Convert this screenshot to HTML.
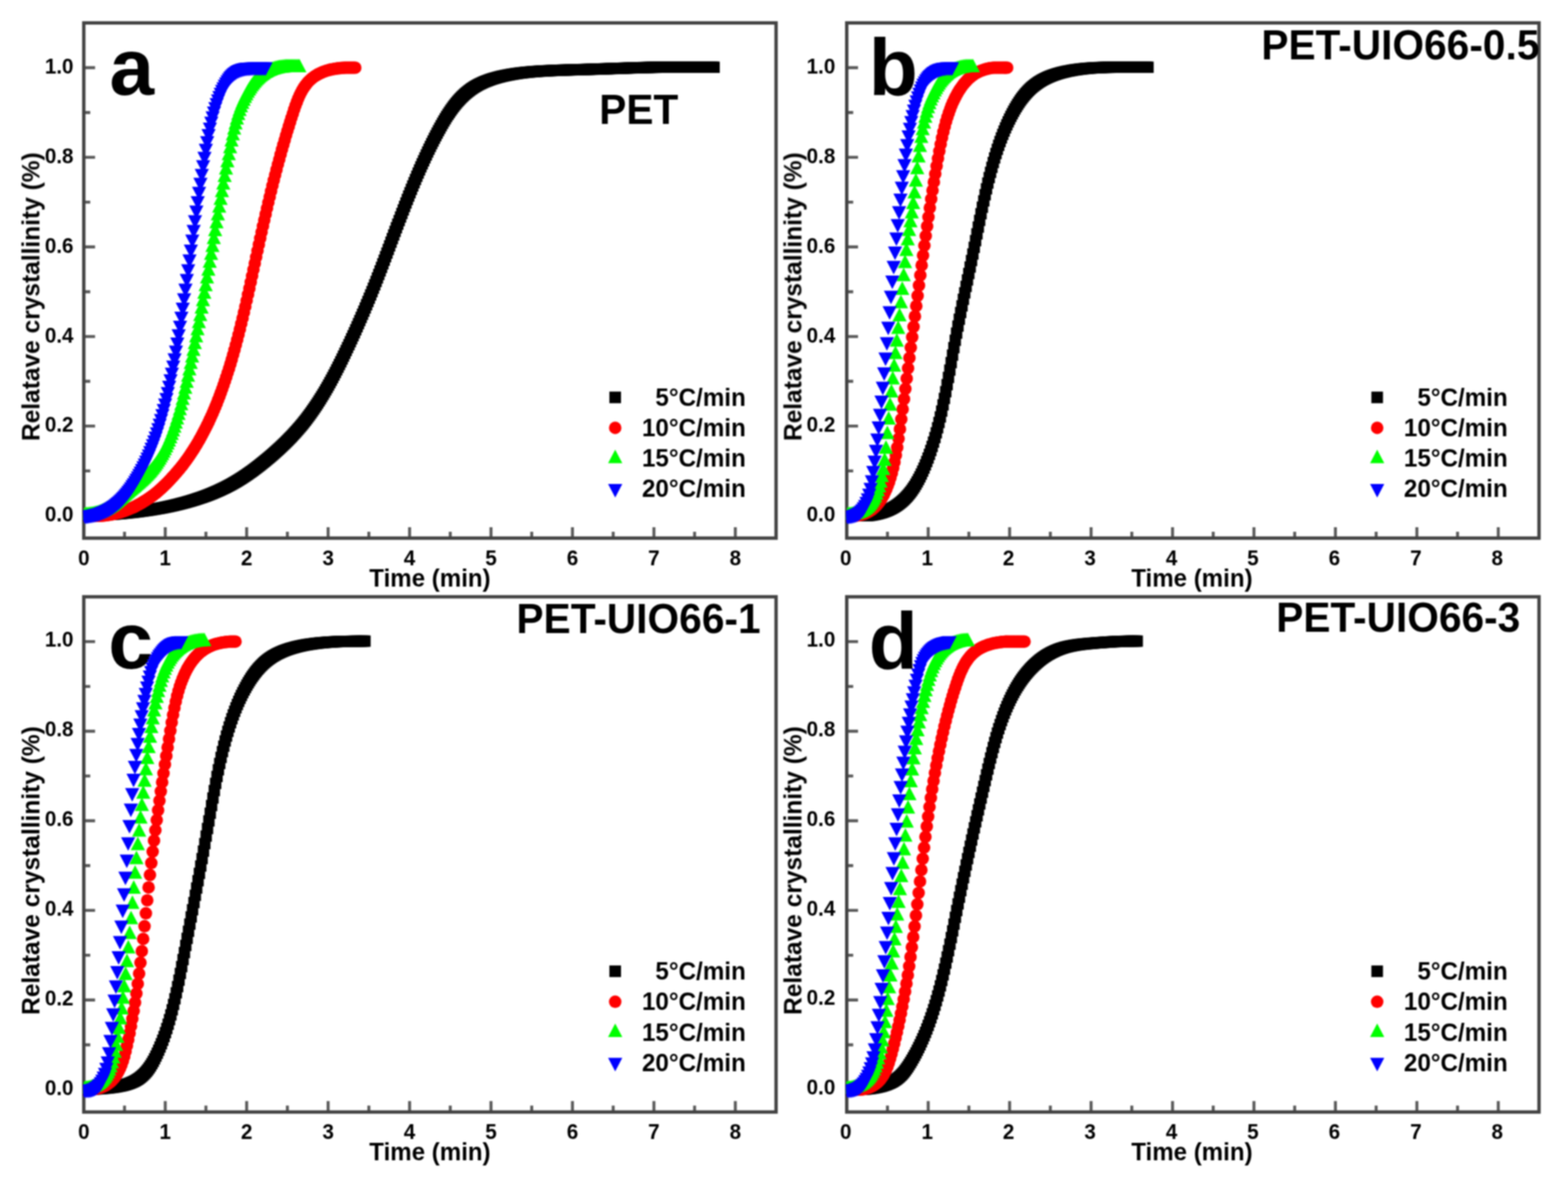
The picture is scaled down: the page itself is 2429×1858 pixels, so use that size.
<!DOCTYPE html>
<html lang="en"><head><meta charset="utf-8">
<title>Relative crystallinity versus time</title>
<style>
html,body{margin:0;padding:0;background:#fff;}
body{width:2429px;height:1858px;overflow:hidden;}
svg{display:block;}
text{font-family:"Liberation Sans", Arial, Helvetica, sans-serif;font-weight:bold;fill:#000;}
.tk{font-size:32px;}
.lb{font-size:37.3px;}
.yl{font-size:38px;}
.lg{font-size:37.5px;}
.tt{font-size:63px;}
.pl{font-size:124.5px;}
.ax{stroke:#424242;stroke-width:5.2;fill:none;}
.tkm{stroke:#5a5a5a;stroke-width:4.6;fill:none;}
.cv{fill:none;stroke:none;}
</style></head><body>
<svg xmlns="http://www.w3.org/2000/svg" width="2429" height="1858" viewBox="0 0 2429 1858">
<defs>
<filter id="soft" x="0" y="0" width="100%" height="100%" filterUnits="userSpaceOnUse" color-interpolation-filters="sRGB"><feGaussianBlur stdDeviation="1.1"/></filter>
<marker id="ms" markerUnits="userSpaceOnUse" markerWidth="24" markerHeight="24" refX="12" refY="12" overflow="visible"><rect x="3.2" y="3.2" width="17.6" height="17.6" fill="#000"/></marker>
<marker id="mc" markerUnits="userSpaceOnUse" markerWidth="24" markerHeight="24" refX="12" refY="12" overflow="visible"><circle cx="12" cy="12" r="9.7" fill="#f00"/></marker>
<marker id="mu" markerUnits="userSpaceOnUse" markerWidth="28" markerHeight="32" refX="14" refY="16" overflow="visible"><path d="M14 2 L25 23 L3 23 Z" fill="#0f0"/></marker>
<marker id="md" markerUnits="userSpaceOnUse" markerWidth="28" markerHeight="32" refX="14" refY="16" overflow="visible"><path d="M3 9 L25 9 L14 30 Z" fill="#00f"/></marker>
<clipPath id="cpa"><rect x="128.8" y="33.5" width="1075.4" height="802.4"/></clipPath>
<clipPath id="cpb"><rect x="1310.7" y="33.5" width="1075.4" height="802.4"/></clipPath>
<clipPath id="cpc"><rect x="128.8" y="922.8" width="1075.4" height="802.4"/></clipPath>
<clipPath id="cpd"><rect x="1310.7" y="922.8" width="1075.4" height="802.4"/></clipPath>
</defs>
<rect width="2429" height="1858" fill="#fff"/>
<g filter="url(#soft)">
<g id="panel-a">
<path class="tkm" d="M192.9 833.9v-10M256.0 833.9v-17M319.0 833.9v-10M382.1 833.9v-17M445.2 833.9v-10M508.3 833.9v-17M571.4 833.9v-10M634.5 833.9v-17M697.5 833.9v-10M760.6 833.9v-17M823.7 833.9v-10M886.8 833.9v-17M949.9 833.9v-10M1013.0 833.9v-17M1076.0 833.9v-10M1139.1 833.9v-17M129.8 799.2h17.5M129.8 729.8h10M129.8 660.3h17.5M129.8 590.9h10M129.8 521.5h17.5M129.8 452.1h10M129.8 382.6h17.5M129.8 313.2h10M129.8 243.8h17.5M129.8 174.4h10M129.8 104.9h17.5"/>
<rect class="ax" x="129.8" y="35.5" width="1072.4" height="798.4"/>
<text class="tk" text-anchor="middle" transform="translate(129.8 875.8) scale(1 1.040)">0</text>
<text class="tk" text-anchor="middle" transform="translate(256.0 875.8) scale(1 1.040)">1</text>
<text class="tk" text-anchor="middle" transform="translate(382.1 875.8) scale(1 1.040)">2</text>
<text class="tk" text-anchor="middle" transform="translate(508.3 875.8) scale(1 1.040)">3</text>
<text class="tk" text-anchor="middle" transform="translate(634.5 875.8) scale(1 1.040)">4</text>
<text class="tk" text-anchor="middle" transform="translate(760.6 875.8) scale(1 1.040)">5</text>
<text class="tk" text-anchor="middle" transform="translate(886.8 875.8) scale(1 1.040)">6</text>
<text class="tk" text-anchor="middle" transform="translate(1013.0 875.8) scale(1 1.040)">7</text>
<text class="tk" text-anchor="middle" transform="translate(1139.1 875.8) scale(1 1.040)">8</text>
<text class="tk" text-anchor="end" transform="translate(113.9 808.3) scale(1 1.040)">0.0</text>
<text class="tk" text-anchor="end" transform="translate(113.9 669.4) scale(1 1.040)">0.2</text>
<text class="tk" text-anchor="end" transform="translate(113.9 530.6) scale(1 1.040)">0.4</text>
<text class="tk" text-anchor="end" transform="translate(113.9 391.7) scale(1 1.040)">0.6</text>
<text class="tk" text-anchor="end" transform="translate(113.9 252.9) scale(1 1.040)">0.8</text>
<text class="tk" text-anchor="end" transform="translate(113.9 114.0) scale(1 1.040)">1.0</text>
<text class="lb" text-anchor="middle" transform="translate(666.0 908.5) scale(1 1.040)">Time (min)</text>
<text class="yl" text-anchor="middle" transform="translate(61.5 459.7) rotate(-90) scale(1 1.040)">Relatave crystallinity (%)</text>
<text class="pl" text-anchor="middle" x="204.0" y="147.1">a</text>
<text class="tt" transform="translate(928.3 192.2) scale(1 1.040)">PET</text>
<rect x="944.0" y="606.8" width="18" height="18" fill="#000"/>
<text class="lg" text-anchor="end" transform="translate(1155.3 628.8) scale(1 1.040)">5°C/min</text>
<circle cx="953.0" cy="663.0" r="9.7" fill="#f00"/>
<text class="lg" text-anchor="end" transform="translate(1155.3 676.0) scale(1 1.040)">10°C/min</text>
<path d="M953.0 696.7l11 21h-22z" fill="#0f0"/>
<text class="lg" text-anchor="end" transform="translate(1155.3 723.2) scale(1 1.040)">15°C/min</text>
<path d="M942.0 749.9h22l-11 21z" fill="#00f"/>
<text class="lg" text-anchor="end" transform="translate(1155.3 770.4) scale(1 1.040)">20°C/min</text>
<g clip-path="url(#cpa)">
<polyline class="cv" marker-start="url(#ms)" marker-mid="url(#ms)" marker-end="url(#ms)" points="130.5,799.2 132.6,799.1 134.7,799 136.8,799 138.9,798.9 141,798.8 143.1,798.7 145.2,798.6 147.3,798.5 149.4,798.4 151.5,798.3 153.6,798.2 155.7,798.1 157.9,798 160,797.8 162.1,797.7 164.2,797.6 166.3,797.4 168.4,797.3 170.5,797.1 172.6,797 174.7,796.8 176.8,796.7 178.9,796.5 181,796.3 183.1,796.2 185.2,796 187.3,795.8 189.4,795.6 191.5,795.4 193.6,795.2 195.7,795 197.8,794.7 199.9,794.5 202,794.3 204.1,794 206.2,793.8 208.3,793.6 210.4,793.3 212.5,793 214.6,792.8 216.7,792.5 218.8,792.2 220.9,791.9 223,791.6 225.1,791.3 227.2,791 229.3,790.7 231.4,790.4 233.5,790 235.7,789.7 237.8,789.3 239.9,789 242,788.6 244.1,788.2 246.2,787.9 248.3,787.5 250.4,787.1 252.5,786.7 254.6,786.3 256.7,785.8 258.8,785.4 260.9,785 263,784.5 265.1,784 267.2,783.6 269.3,783.1 271.4,782.6 273.5,782.1 275.6,781.6 277.7,781.1 279.8,780.5 281.9,780 284,779.4 286.1,778.9 288.2,778.3 290.3,777.7 292.4,777.1 294.5,776.5 296.6,775.9 298.7,775.2 300.8,774.6 302.9,773.9 305,773.2 307.1,772.5 309.2,771.8 311.4,771.1 313.5,770.4 315.6,769.6 317.7,768.9 319.8,768.1 321.9,767.3 324,766.5 326.1,765.6 328.2,764.8 330.3,763.9 332.4,763 334.5,762.1 336.6,761.2 338.7,760.3 340.8,759.3 342.9,758.3 345,757.3 347.1,756.3 349.2,755.3 351.3,754.2 353.4,753.1 355.5,752 357.6,750.9 359.7,749.7 361.8,748.5 363.9,747.3 366,746.1 368.1,744.8 370.2,743.5 372.3,742.2 374.4,740.9 376.5,739.5 378.6,738.1 380.7,736.7 382.8,735.3 384.9,733.8 387,732.3 389.2,730.8 391.3,729.3 393.4,727.7 395.5,726.1 397.6,724.5 399.7,722.9 401.8,721.3 403.9,719.6 406,717.9 408.1,716.2 410.2,714.5 412.3,712.8 414.4,711 416.5,709.3 418.6,707.5 420.7,705.7 422.8,703.9 424.9,702 427,700.1 429.1,698.2 431.2,696.3 433.3,694.4 435.4,692.4 437.5,690.4 439.6,688.4 441.7,686.4 443.8,684.3 445.9,682.2 448,680 450.1,677.9 452.2,675.7 454.3,673.4 456.4,671.1 458.5,668.8 460.6,666.4 462.7,664 464.9,661.5 467,659 469.1,656.5 471.2,653.8 473.3,651.2 475.4,648.4 477.5,645.6 479.6,642.8 481.7,639.9 483.8,636.9 485.9,633.9 488,630.8 490.1,627.7 492.2,624.5 494.3,621.2 496.4,617.9 498.5,614.5 500.6,611.1 502.7,607.6 504.8,604 506.9,600.4 509,596.7 511.1,592.9 513.2,589.1 515.3,585.2 517.4,581.2 519.5,577.2 521.6,573.1 523.7,569 525.8,564.8 527.9,560.6 530,556.3 532.1,551.9 534.2,547.5 536.3,543.1 538.4,538.6 540.6,534.1 542.7,529.5 544.8,524.9 546.9,520.3 549,515.7 551.1,511 553.2,506.3 555.3,501.5 557.4,496.7 559.5,491.9 561.6,487 563.7,482.2 565.8,477.2 567.9,472.2 570,467.2 572.1,462.1 574.2,457 576.3,451.9 578.4,446.6 580.5,441.4 582.6,436.1 584.7,430.7 586.8,425.3 588.9,419.8 591,414.4 593.1,408.8 595.2,403.3 597.3,397.7 599.4,392.2 601.5,386.6 603.6,381 605.7,375.3 607.8,369.7 609.9,364.1 612,358.5 614.1,352.9 616.2,347.4 618.4,341.8 620.5,336.3 622.6,330.8 624.7,325.3 626.8,319.9 628.9,314.5 631,309.1 633.1,303.8 635.2,298.6 637.3,293.4 639.4,288.2 641.5,283.1 643.6,278.1 645.7,273.1 647.8,268.2 649.9,263.3 652,258.5 654.1,253.8 656.2,249.2 658.3,244.6 660.4,240.1 662.5,235.6 664.6,231.2 666.7,226.9 668.8,222.6 670.9,218.5 673,214.3 675.1,210.3 677.2,206.3 679.3,202.4 681.4,198.6 683.5,194.8 685.6,191.1 687.7,187.5 689.8,184 691.9,180.5 694.1,177.2 696.2,174.1 698.3,171 700.4,168.1 702.5,165.2 704.6,162.5 706.7,159.9 708.8,157.4 710.9,155.1 713,152.8 715.1,150.6 717.2,148.6 719.3,146.6 721.4,144.7 723.5,143 725.6,141.3 727.7,139.7 729.8,138.1 731.9,136.7 734,135.3 736.1,134 738.2,132.8 740.3,131.6 742.4,130.5 744.5,129.5 746.6,128.5 748.7,127.5 750.8,126.6 752.9,125.8 755,125 757.1,124.2 759.2,123.4 761.3,122.7 763.4,122 765.5,121.4 767.6,120.8 769.7,120.2 771.9,119.6 774,119.1 776.1,118.5 778.2,118 780.3,117.6 782.4,117.1 784.5,116.7 786.6,116.3 788.7,115.9 790.8,115.5 792.9,115.1 795,114.8 797.1,114.4 799.2,114.1 801.3,113.8 803.4,113.5 805.5,113.2 807.6,113 809.7,112.7 811.8,112.5 813.9,112.2 816,112 818.1,111.8 820.2,111.6 822.3,111.4 824.4,111.2 826.5,111 828.6,110.9 830.7,110.7 832.8,110.6 834.9,110.4 837,110.3 839.1,110.1 841.2,110 843.3,109.9 845.4,109.8 847.6,109.7 849.7,109.6 851.8,109.5 853.9,109.4 856,109.3 858.1,109.2 860.2,109.1 862.3,109 864.4,108.9 866.5,108.9 868.6,108.8 870.7,108.7 872.8,108.6 874.9,108.6 877,108.5 879.1,108.5 881.2,108.4 883.3,108.3 885.4,108.3 887.5,108.2 889.6,108.1 891.7,108.1 893.8,108 895.9,108 898,107.9 900.1,107.8 902.2,107.8 904.3,107.7 906.4,107.7 908.5,107.6 910.6,107.5 912.7,107.5 914.8,107.4 916.9,107.3 919,107.3 921.1,107.2 923.2,107.1 925.4,107 927.5,107 929.6,106.9 931.7,106.8 933.8,106.8 935.9,106.7 938,106.6 940.1,106.6 942.2,106.5 944.3,106.4 946.4,106.3 948.5,106.3 950.6,106.2 952.7,106.1 954.8,106 956.9,106 959,105.9 961.1,105.8 963.2,105.8 965.3,105.7 967.4,105.6 969.5,105.6 971.6,105.5 973.7,105.4 975.8,105.3 977.9,105.3 980,105.2 982.1,105.2 984.2,105.1 986.3,105 988.4,105 990.5,104.9 992.6,104.8 994.7,104.8 996.8,104.7 998.9,104.7 1001.1,104.6 1003.2,104.6 1005.3,104.5 1007.4,104.4 1009.5,104.4 1011.6,104.3 1013.7,104.3 1015.8,104.3 1017.9,104.2 1020,104.2 1022.1,104.2 1024.2,104.2 1026.3,104.2 1028.4,104.2 1030.5,104.2 1032.6,104.2 1034.7,104.2 1036.8,104.2 1038.9,104.2 1041,104.2 1043.1,104.2 1045.2,104.2 1047.3,104.2 1049.4,104.2 1051.5,104.2 1053.6,104.2 1055.7,104.2 1057.8,104.2 1059.9,104.2 1062,104.2 1064.1,104.2 1066.2,104.2 1068.3,104.2 1070.4,104.2 1072.5,104.2 1074.6,104.2 1076.8,104.2 1078.9,104.2 1081,104.2 1083.1,104.2 1085.2,104.2 1087.3,104.2 1089.4,104.2 1091.5,104.2 1093.6,104.2 1095.7,104.2 1097.8,104.2 1099.9,104.2 1102,104.2 1104.1,104.2 1106.2,104.2"/>
<polyline class="cv" marker-start="url(#mc)" marker-mid="url(#mc)" marker-end="url(#mc)" points="131.9,799.2 134,799.2 136.1,799.2 138.2,799.2 140.3,799.2 142.4,799.2 144.5,799.2 146.6,799.2 148.7,799.2 150.8,799.2 152.9,799.2 155,799.2 157.1,799.2 159.2,799 161.3,798.8 163.4,798.5 165.5,798.3 167.6,798 169.7,797.6 171.8,797.3 173.9,796.9 176,796.4 178.1,796 180.2,795.5 182.3,794.9 184.4,794.4 186.5,793.8 188.6,793.1 190.7,792.4 192.8,791.7 194.9,791 197,790.2 199.1,789.3 201.3,788.4 203.4,787.5 205.5,786.6 207.6,785.6 209.7,784.6 211.8,783.5 213.9,782.4 216,781.2 218.1,780 220.2,778.8 222.3,777.5 224.4,776.2 226.5,774.9 228.6,773.5 230.7,772.1 232.8,770.6 234.9,769.1 237,767.6 239.1,766 241.2,764.3 243.3,762.6 245.4,760.8 247.5,759 249.6,757.1 251.7,755.2 253.8,753.2 255.9,751.2 258,749.1 260.1,746.9 262.2,744.7 264.3,742.5 266.4,740.2 268.5,737.9 270.6,735.5 272.7,733.1 274.8,730.7 277,728.1 279.1,725.6 281.2,722.9 283.3,720.3 285.4,717.5 287.5,714.7 289.6,711.8 291.7,708.8 293.8,705.8 295.9,702.6 298,699.4 300.1,696.2 302.2,692.8 304.3,689.4 306.4,685.8 308.5,682.2 310.6,678.5 312.7,674.6 314.8,670.7 316.9,666.7 319,662.5 321.1,658.3 323.2,653.9 325.3,649.4 327.4,644.8 329.5,640.1 331.6,635.2 333.7,630.2 335.8,625 337.9,619.7 340,614.2 342.1,608.6 344.2,602.8 346.3,596.8 348.4,590.7 350.5,584.3 352.6,577.8 354.8,571.1 356.9,564.2 359,557.1 361.1,549.8 363.2,542.3 365.3,534.6 367.4,526.7 369.5,518.6 371.6,510.2 373.7,501.7 375.8,493 377.9,484.1 380,475 382.1,465.8 384.2,456.4 386.3,446.9 388.4,437.3 390.5,427.6 392.6,417.8 394.7,408.1 396.8,398.3 398.9,388.6 401,378.9 403.1,369.3 405.2,359.8 407.3,350.4 409.4,341.1 411.5,331.9 413.6,322.8 415.7,313.8 417.8,305 419.9,296.3 422,287.7 424.1,279.3 426.2,271 428.3,262.9 430.5,254.8 432.6,247 434.7,239.3 436.8,231.7 438.9,224.3 441,217 443.1,209.8 445.2,202.8 447.3,195.9 449.4,189.2 451.5,182.5 453.6,176.1 455.7,169.7 457.8,163.6 459.9,157.9 462,152.6 464.1,147.8 466.2,143.5 468.3,139.7 470.4,136.2 472.5,133.1 474.6,130.3 476.7,127.7 478.8,125.5 480.9,123.5 483,121.6 485.1,120 487.2,118.5 489.3,117.1 491.4,115.8 493.5,114.7 495.6,113.6 497.7,112.6 499.8,111.7 501.9,110.9 504,110.2 506.1,109.5 508.3,108.9 510.4,108.3 512.5,107.8 514.6,107.4 516.7,106.9 518.8,106.6 520.9,106.2 523,105.9 525.1,105.7 527.2,105.5 529.3,105.3 531.4,105.1 533.5,105 535.6,104.9 537.7,104.9 539.8,104.9 541.9,104.9 544,104.9 546.1,104.9 548.2,104.9 550.3,104.9"/>
<polyline class="cv" marker-start="url(#mu)" marker-mid="url(#mu)" marker-end="url(#mu)" points="131.5,799.2 133.6,799.1 135.7,799 137.8,798.8 139.9,798.6 142,798.3 144.1,797.9 146.2,797.5 148.3,797.1 150.4,796.5 152.5,795.9 154.6,795.2 156.7,794.5 158.8,793.6 160.9,792.7 163,791.7 165.1,790.6 167.2,789.4 169.3,788.2 171.4,786.8 173.5,785.4 175.6,783.9 177.7,782.3 179.8,780.6 181.9,778.9 184,777.1 186.1,775.3 188.2,773.4 190.3,771.5 192.4,769.6 194.5,767.7 196.6,765.8 198.7,763.9 200.9,762.1 203,760.3 205.1,758.5 207.2,756.7 209.3,754.9 211.4,753.1 213.5,751.3 215.6,749.4 217.7,747.6 219.8,745.7 221.9,743.7 224,741.7 226.1,739.6 228.2,737.5 230.3,735.2 232.4,732.9 234.5,730.4 236.6,727.9 238.7,725.2 240.8,722.4 242.9,719.4 245,716.3 247.1,713.1 249.2,709.6 251.3,706 253.4,702.3 255.5,698.3 257.6,694.1 259.7,689.6 261.8,685 263.9,680 266,674.8 268.1,669.3 270.2,663.5 272.3,657.3 274.4,650.7 276.6,643.8 278.7,636.5 280.8,628.8 282.9,620.6 285,612.1 287.1,603.2 289.2,593.9 291.3,584.4 293.4,574.7 295.5,564.8 297.6,554.8 299.7,544.5 301.8,534 303.9,523.4 306,512.6 308.1,501.6 310.2,490.4 312.3,479.1 314.4,467.6 316.5,456 318.6,444.2 320.7,432.2 322.8,420.2 324.9,408.1 327,395.8 329.1,383.6 331.2,371.3 333.3,359 335.4,346.8 337.5,334.6 339.6,322.5 341.7,310.4 343.8,298.5 345.9,286.7 348,275.1 350.1,263.6 352.2,252.3 354.4,241.2 356.5,230.4 358.6,220.1 360.7,210.5 362.8,201.5 364.9,193.4 367,185.9 369.1,179 371.2,172.8 373.3,167.1 375.4,161.8 377.5,157 379.6,152.5 381.7,148.4 383.8,144.6 385.9,141 388,137.7 390.1,134.6 392.2,131.8 394.3,129.1 396.4,126.6 398.5,124.3 400.6,122.2 402.7,120.3 404.8,118.5 406.9,116.9 409,115.5 411.1,114.1 413.2,112.9 415.3,111.8 417.4,110.8 419.5,109.9 421.6,109.1 423.7,108.4 425.8,107.7 427.9,107.2 430.1,106.7 432.2,106.3 434.3,106 436.4,105.7 438.5,105.4 440.6,105.3 442.7,105.1 444.8,105 446.9,104.9 449,104.9 451.1,104.9 453.2,104.9 455.3,104.9 457.4,104.9 459.5,104.9 461.6,104.9 463.7,104.9"/>
<polyline class="cv" marker-start="url(#md)" marker-mid="url(#md)" marker-end="url(#md)" points="131.7,798.3 133.8,798.2 135.9,797.9 138,797.6 140.1,797.3 142.2,796.9 144.4,796.5 146.5,796.1 148.6,795.5 150.7,795 152.8,794.4 154.9,793.7 157,792.9 159.1,792.1 161.2,791.2 163.3,790.3 165.4,789.3 167.5,788.2 169.6,787 171.7,785.8 173.8,784.4 175.9,783 178,781.5 180.1,779.8 182.2,778.1 184.3,776.3 186.4,774.3 188.5,772.2 190.6,770 192.7,767.7 194.8,765.3 196.9,762.7 199,760 201.1,757.2 203.2,754.2 205.3,751.1 207.4,747.9 209.5,744.5 211.6,741.1 213.7,737.5 215.8,733.8 217.9,729.9 220,725.9 222.2,721.8 224.3,717.4 226.4,712.9 228.5,708.3 230.6,703.4 232.7,698.3 234.8,693 236.9,687.5 239,681.7 241.1,675.7 243.2,669.3 245.3,662.7 247.4,655.8 249.5,648.6 251.6,641 253.7,633 255.8,624.6 257.9,615.9 260,606.7 262.1,597.1 264.2,587.1 266.3,576.7 268.4,565.8 270.5,554.4 272.6,542.5 274.7,530.1 276.8,517.3 278.9,503.9 281,490.1 283.1,475.9 285.2,461.4 287.3,446.6 289.4,431.6 291.5,416.4 293.6,401.2 295.7,385.9 297.9,370.6 300,355.4 302.1,340.4 304.2,325.5 306.3,310.9 308.4,296.5 310.5,282.5 312.6,268.7 314.7,255.3 316.8,242.3 318.9,229.7 321,217.9 323.1,206.9 325.2,196.9 327.3,187.8 329.4,179.5 331.5,172 333.6,165.2 335.7,159 337.8,153.2 339.9,148 342,143.1 344.1,138.6 346.2,134.5 348.3,130.6 350.4,127 352.5,123.7 354.6,120.7 356.7,118.1 358.8,115.7 360.9,113.7 363,111.9 365.1,110.4 367.2,109.1 369.3,108 371.4,107 373.6,106.2 375.7,105.6 377.8,105.1 379.9,104.6 382,104.3 384.1,104.1 386.2,103.9 388.3,103.8 390.4,103.7 392.5,103.6 394.6,103.6 396.7,103.5 398.8,103.5 400.9,103.5 403,103.5 405.1,103.5 407.2,103.5 409.3,103.5 411.4,103.5"/>
</g>
</g>
<g id="panel-b">
<path class="tkm" d="M1374.8 833.9v-10M1437.9 833.9v-17M1500.9 833.9v-10M1564.0 833.9v-17M1627.1 833.9v-10M1690.2 833.9v-17M1753.3 833.9v-10M1816.4 833.9v-17M1879.4 833.9v-10M1942.5 833.9v-17M2005.6 833.9v-10M2068.7 833.9v-17M2131.8 833.9v-10M2194.9 833.9v-17M2257.9 833.9v-10M2321.0 833.9v-17M1311.7 799.2h17.5M1311.7 729.8h10M1311.7 660.3h17.5M1311.7 590.9h10M1311.7 521.5h17.5M1311.7 452.1h10M1311.7 382.6h17.5M1311.7 313.2h10M1311.7 243.8h17.5M1311.7 174.4h10M1311.7 104.9h17.5"/>
<rect class="ax" x="1311.7" y="35.5" width="1072.4" height="798.4"/>
<text class="tk" text-anchor="middle" transform="translate(1310.2 875.8) scale(1 1.040)">0</text>
<text class="tk" text-anchor="middle" transform="translate(1436.4 875.8) scale(1 1.040)">1</text>
<text class="tk" text-anchor="middle" transform="translate(1562.5 875.8) scale(1 1.040)">2</text>
<text class="tk" text-anchor="middle" transform="translate(1688.7 875.8) scale(1 1.040)">3</text>
<text class="tk" text-anchor="middle" transform="translate(1814.9 875.8) scale(1 1.040)">4</text>
<text class="tk" text-anchor="middle" transform="translate(1941.0 875.8) scale(1 1.040)">5</text>
<text class="tk" text-anchor="middle" transform="translate(2067.2 875.8) scale(1 1.040)">6</text>
<text class="tk" text-anchor="middle" transform="translate(2193.4 875.8) scale(1 1.040)">7</text>
<text class="tk" text-anchor="middle" transform="translate(2319.5 875.8) scale(1 1.040)">8</text>
<text class="tk" text-anchor="end" transform="translate(1294.0 808.3) scale(1 1.040)">0.0</text>
<text class="tk" text-anchor="end" transform="translate(1294.0 669.4) scale(1 1.040)">0.2</text>
<text class="tk" text-anchor="end" transform="translate(1294.0 530.6) scale(1 1.040)">0.4</text>
<text class="tk" text-anchor="end" transform="translate(1294.0 391.7) scale(1 1.040)">0.6</text>
<text class="tk" text-anchor="end" transform="translate(1294.0 252.9) scale(1 1.040)">0.8</text>
<text class="tk" text-anchor="end" transform="translate(1294.0 114.0) scale(1 1.040)">1.0</text>
<text class="lb" text-anchor="middle" transform="translate(1846.4 908.5) scale(1 1.040)">Time (min)</text>
<text class="yl" text-anchor="middle" transform="translate(1241.9 459.7) rotate(-90) scale(1 1.040)">Relatave crystallinity (%)</text>
<text class="pl" text-anchor="middle" x="1383.9" y="147.1">b</text>
<text class="tt" text-anchor="end" transform="translate(2384.7 91.7) scale(1 1.040)">PET-UIO66-0.5</text>
<rect x="2124.4" y="606.8" width="18" height="18" fill="#000"/>
<text class="lg" text-anchor="end" transform="translate(2335.7 628.8) scale(1 1.040)">5°C/min</text>
<circle cx="2133.4" cy="663.0" r="9.7" fill="#f00"/>
<text class="lg" text-anchor="end" transform="translate(2335.7 676.0) scale(1 1.040)">10°C/min</text>
<path d="M2133.4 696.7l11 21h-22z" fill="#0f0"/>
<text class="lg" text-anchor="end" transform="translate(2335.7 723.2) scale(1 1.040)">15°C/min</text>
<path d="M2122.4 749.9h22l-11 21z" fill="#00f"/>
<text class="lg" text-anchor="end" transform="translate(2335.7 770.4) scale(1 1.040)">20°C/min</text>
<g clip-path="url(#cpb)">
<polyline class="cv" marker-start="url(#ms)" marker-mid="url(#ms)" marker-end="url(#ms)" points="1313.7,799.2 1315.8,799.2 1317.9,799.2 1320,799.2 1322.1,799.2 1324.2,799.2 1326.3,799.2 1328.4,799.2 1330.5,799.2 1332.6,799.2 1334.7,799.2 1336.8,799.2 1338.9,799.2 1341,799.2 1343.1,799.1 1345.2,798.8 1347.3,798.6 1349.4,798.3 1351.5,797.9 1353.6,797.5 1355.7,797.1 1357.8,796.6 1359.9,796.1 1362,795.5 1364.1,794.9 1366.2,794.3 1368.3,793.6 1370.5,792.8 1372.6,792 1374.7,791.1 1376.8,790.2 1378.9,789.1 1381,788.1 1383.1,786.9 1385.2,785.7 1387.3,784.4 1389.4,783 1391.5,781.5 1393.6,779.9 1395.7,778.2 1397.8,776.4 1399.9,774.5 1402,772.4 1404.1,770.2 1406.2,767.9 1408.3,765.4 1410.4,762.8 1412.5,760 1414.6,756.9 1416.7,753.8 1418.8,750.3 1420.9,746.7 1423,742.9 1425.1,738.9 1427.2,734.6 1429.3,730.1 1431.4,725.4 1433.5,720.4 1435.6,715.2 1437.7,709.8 1439.8,704.1 1441.9,698.1 1444,691.8 1446.1,685.1 1448.3,678.1 1450.4,670.7 1452.5,662.9 1454.6,654.7 1456.7,646.1 1458.8,637 1460.9,627.4 1463,617.4 1465.1,607 1467.2,596.1 1469.3,584.9 1471.4,573.5 1473.5,561.9 1475.6,550.3 1477.7,538.7 1479.8,527.3 1481.9,516.2 1484,505.3 1486.1,494.7 1488.2,484.3 1490.3,474 1492.4,463.8 1494.5,453.8 1496.6,443.8 1498.7,433.8 1500.8,423.8 1502.9,413.8 1505,403.7 1507.1,393.6 1509.2,383.3 1511.3,372.9 1513.4,362.4 1515.5,351.9 1517.6,341.5 1519.7,331.2 1521.8,321.1 1524,311.3 1526.1,301.8 1528.2,292.6 1530.3,283.7 1532.4,275.2 1534.5,267.1 1536.6,259.3 1538.7,251.8 1540.8,244.7 1542.9,237.9 1545,231.4 1547.1,225.2 1549.2,219.3 1551.3,213.7 1553.4,208.3 1555.5,203.1 1557.6,198.1 1559.7,193.4 1561.8,188.8 1563.9,184.5 1566,180.3 1568.1,176.3 1570.2,172.4 1572.3,168.7 1574.4,165.2 1576.5,161.8 1578.6,158.6 1580.7,155.5 1582.8,152.6 1584.9,149.9 1587,147.3 1589.1,144.8 1591.2,142.5 1593.3,140.3 1595.4,138.2 1597.5,136.2 1599.6,134.4 1601.8,132.7 1603.9,131 1606,129.5 1608.1,128 1610.2,126.6 1612.3,125.4 1614.4,124.1 1616.5,123 1618.6,121.9 1620.7,120.9 1622.8,119.9 1624.9,119 1627,118.1 1629.1,117.3 1631.2,116.5 1633.3,115.8 1635.4,115.1 1637.5,114.4 1639.6,113.8 1641.7,113.2 1643.8,112.6 1645.9,112.1 1648,111.6 1650.1,111.1 1652.2,110.6 1654.3,110.2 1656.4,109.8 1658.5,109.4 1660.6,109 1662.7,108.6 1664.8,108.3 1666.9,108 1669,107.7 1671.1,107.4 1673.2,107.1 1675.3,106.9 1677.5,106.6 1679.6,106.4 1681.7,106.2 1683.8,106 1685.9,105.8 1688,105.6 1690.1,105.5 1692.2,105.3 1694.3,105.2 1696.4,105.1 1698.5,105 1700.6,104.8 1702.7,104.7 1704.8,104.7 1706.9,104.6 1709,104.5 1711.1,104.4 1713.2,104.4 1715.3,104.3 1717.4,104.3 1719.5,104.3 1721.6,104.2 1723.7,104.2 1725.8,104.2 1727.9,104.2 1730,104.2 1732.1,104.2 1734.2,104.2 1736.3,104.2 1738.4,104.2 1740.5,104.2 1742.6,104.2 1744.7,104.2 1746.8,104.2 1748.9,104.2 1751,104.2 1753.2,104.2 1755.3,104.2 1757.4,104.2 1759.5,104.2 1761.6,104.2 1763.7,104.2 1765.8,104.2 1767.9,104.2 1770,104.2 1772.1,104.2 1774.2,104.2 1776.3,104.2 1778.4,104.2"/>
<polyline class="cv" marker-start="url(#mc)" marker-mid="url(#mc)" marker-end="url(#mc)" points="1312.1,799.2 1314.2,799.2 1316.3,799.2 1318.4,799.2 1320.5,799.2 1322.6,799.2 1324.7,799.1 1326.8,798.9 1328.9,798.6 1331,798.2 1333.1,797.8 1335.3,797.2 1337.4,796.6 1339.5,795.9 1341.6,795 1343.7,794 1345.8,792.9 1347.9,791.7 1350,790.3 1352.1,788.7 1354.2,786.9 1356.3,785 1358.4,782.7 1360.5,780.2 1362.6,777.4 1364.7,774.3 1366.8,770.8 1368.9,767 1371,762.7 1373.1,758 1375.2,752.8 1377.3,747.1 1379.4,740.6 1381.5,733.5 1383.6,725.3 1385.7,716.1 1387.8,705.5 1389.9,693.4 1392,679.8 1394.1,664.9 1396.2,649.6 1398.3,634.1 1400.4,618.4 1402.5,602.6 1404.6,586.7 1406.7,570.7 1408.8,554.7 1410.9,538.6 1413.1,522.4 1415.2,506.3 1417.3,490.2 1419.4,474.2 1421.5,458.3 1423.6,442.4 1425.7,426.7 1427.8,411.2 1429.9,395.8 1432,380.5 1434.1,365.5 1436.2,350.7 1438.3,336.3 1440.4,322.1 1442.5,308.4 1444.6,295 1446.7,282 1448.8,269.5 1450.9,257.3 1453,245.6 1455.1,234.3 1457.2,223.6 1459.3,213.6 1461.4,204.4 1463.5,196 1465.6,188.3 1467.7,181.3 1469.8,174.9 1471.9,169.1 1474,163.7 1476.1,158.7 1478.2,154.2 1480.3,149.9 1482.4,146 1484.5,142.3 1486.6,138.9 1488.8,135.8 1490.9,132.8 1493,130.1 1495.1,127.6 1497.2,125.3 1499.3,123.1 1501.4,121.1 1503.5,119.3 1505.6,117.7 1507.7,116.1 1509.8,114.7 1511.9,113.4 1514,112.3 1516.1,111.2 1518.2,110.3 1520.3,109.4 1522.4,108.6 1524.5,107.9 1526.6,107.3 1528.7,106.7 1530.8,106.2 1532.9,105.8 1535,105.4 1537.1,105.1 1539.2,104.9 1541.3,104.9 1543.4,104.9 1545.5,104.9 1547.6,104.9 1549.7,104.9 1551.8,104.9 1553.9,104.9 1556,104.9 1558.1,104.9 1560.2,104.9"/>
<polyline class="cv" marker-start="url(#mu)" marker-mid="url(#mu)" marker-end="url(#mu)" points="1313.6,799.1 1315.7,799 1317.8,798.8 1319.9,798.5 1322,798.1 1324.2,797.7 1326.3,797.2 1328.4,796.5 1330.5,795.8 1332.6,794.9 1334.7,794 1336.8,792.8 1338.9,791.5 1341,790 1343.1,788.3 1345.2,786.4 1347.3,784.2 1349.4,781.7 1351.5,778.8 1353.6,775.5 1355.7,771.7 1357.8,767.2 1359.9,762 1362,756 1364.1,748.8 1366.2,740.1 1368.3,729.2 1370.4,715.1 1372.5,696.3 1374.6,673.5 1376.7,651 1378.8,629.5 1380.9,608.9 1383,588.8 1385.1,569.1 1387.2,549.6 1389.3,530.2 1391.4,510.6 1393.5,490.9 1395.6,470.8 1397.7,450 1399.9,428.8 1402,408.4 1404.1,389.8 1406.2,373.3 1408.3,358.8 1410.4,345.2 1412.5,331.6 1414.6,317.1 1416.7,300.6 1418.8,282.2 1420.9,262.9 1423,244.7 1425.1,228.4 1427.2,214.5 1429.3,202.5 1431.4,192.3 1433.5,183.3 1435.6,175.5 1437.7,168.5 1439.8,162.3 1441.9,156.6 1444,151.5 1446.1,146.9 1448.2,142.6 1450.3,138.7 1452.4,135.1 1454.5,131.7 1456.6,128.6 1458.7,125.8 1460.8,123.2 1462.9,120.9 1465,118.8 1467.1,116.9 1469.2,115.1 1471.3,113.6 1473.4,112.3 1475.6,111 1477.7,110 1479.8,109 1481.9,108.2 1484,107.5 1486.1,106.9 1488.2,106.3 1490.3,105.9 1492.4,105.5 1494.5,105.3 1496.6,105.1 1498.7,104.9 1500.8,104.9 1502.9,104.9 1505,104.9 1507.1,104.9"/>
<polyline class="cv" marker-start="url(#md)" marker-mid="url(#md)" marker-end="url(#md)" points="1312.9,798.5 1315,798.4 1317.1,798.3 1319.2,798 1321.3,797.6 1323.4,797 1325.5,796.2 1327.6,795.3 1329.7,794 1331.8,792.5 1333.9,790.6 1336,788.3 1338.1,785.3 1340.2,781.7 1342.3,777.1 1344.4,771.4 1346.5,764.3 1348.6,755.3 1350.7,743.5 1352.8,728.9 1354.9,713 1357,696.3 1359.1,678.7 1361.2,660.1 1363.3,640.6 1365.5,620.1 1367.6,598.6 1369.7,576.3 1371.8,553.2 1373.9,529.5 1376,505.5 1378.1,481.4 1380.2,457.5 1382.3,434.1 1384.4,411.2 1386.5,388.9 1388.6,367.3 1390.7,346.5 1392.8,326.4 1394.9,307.1 1397,288.5 1399.1,270.7 1401.2,253.5 1403.3,237.3 1405.4,222.4 1407.5,209 1409.6,197.2 1411.7,186.8 1413.8,177.5 1415.9,169.1 1418,161.6 1420.1,154.8 1422.2,148.6 1424.3,143 1426.4,137.8 1428.5,133.2 1430.6,129 1432.7,125.4 1434.8,122.2 1436.9,119.5 1439,117 1441.1,114.9 1443.3,113 1445.4,111.3 1447.5,109.9 1449.6,108.6 1451.7,107.5 1453.8,106.6 1455.9,105.8 1458,105.2 1460.1,104.6 1462.2,104.2 1464.3,103.9 1466.4,103.6 1468.5,103.5 1470.6,103.5 1472.7,103.5 1474.8,103.5"/>
</g>
</g>
<g id="panel-c">
<path class="tkm" d="M192.9 1723.2v-10M256.0 1723.2v-17M319.0 1723.2v-10M382.1 1723.2v-17M445.2 1723.2v-10M508.3 1723.2v-17M571.4 1723.2v-10M634.5 1723.2v-17M697.5 1723.2v-10M760.6 1723.2v-17M823.7 1723.2v-10M886.8 1723.2v-17M949.9 1723.2v-10M1013.0 1723.2v-17M1076.0 1723.2v-10M1139.1 1723.2v-17M129.8 1688.5h17.5M129.8 1619.1h10M129.8 1549.6h17.5M129.8 1480.2h10M129.8 1410.8h17.5M129.8 1341.4h10M129.8 1271.9h17.5M129.8 1202.5h10M129.8 1133.1h17.5M129.8 1063.7h10M129.8 994.2h17.5"/>
<rect class="ax" x="129.8" y="924.8" width="1072.4" height="798.4"/>
<text class="tk" text-anchor="middle" transform="translate(129.8 1765.1) scale(1 1.040)">0</text>
<text class="tk" text-anchor="middle" transform="translate(256.0 1765.1) scale(1 1.040)">1</text>
<text class="tk" text-anchor="middle" transform="translate(382.1 1765.1) scale(1 1.040)">2</text>
<text class="tk" text-anchor="middle" transform="translate(508.3 1765.1) scale(1 1.040)">3</text>
<text class="tk" text-anchor="middle" transform="translate(634.5 1765.1) scale(1 1.040)">4</text>
<text class="tk" text-anchor="middle" transform="translate(760.6 1765.1) scale(1 1.040)">5</text>
<text class="tk" text-anchor="middle" transform="translate(886.8 1765.1) scale(1 1.040)">6</text>
<text class="tk" text-anchor="middle" transform="translate(1013.0 1765.1) scale(1 1.040)">7</text>
<text class="tk" text-anchor="middle" transform="translate(1139.1 1765.1) scale(1 1.040)">8</text>
<text class="tk" text-anchor="end" transform="translate(113.9 1696.5) scale(1 1.040)">0.0</text>
<text class="tk" text-anchor="end" transform="translate(113.9 1557.6) scale(1 1.040)">0.2</text>
<text class="tk" text-anchor="end" transform="translate(113.9 1418.8) scale(1 1.040)">0.4</text>
<text class="tk" text-anchor="end" transform="translate(113.9 1279.9) scale(1 1.040)">0.6</text>
<text class="tk" text-anchor="end" transform="translate(113.9 1141.1) scale(1 1.040)">0.8</text>
<text class="tk" text-anchor="end" transform="translate(113.9 1002.2) scale(1 1.040)">1.0</text>
<text class="lb" text-anchor="middle" transform="translate(666.0 1797.8) scale(1 1.040)">Time (min)</text>
<text class="yl" text-anchor="middle" transform="translate(61.5 1349.0) rotate(-90) scale(1 1.040)">Relatave crystallinity (%)</text>
<text class="pl" text-anchor="middle" x="202.3" y="1036.4">c</text>
<text class="tt" transform="translate(800.1 980.8) scale(1 1.040)">PET-UIO66-1</text>
<rect x="944.0" y="1496.1" width="18" height="18" fill="#000"/>
<text class="lg" text-anchor="end" transform="translate(1155.3 1518.1) scale(1 1.040)">5°C/min</text>
<circle cx="953.0" cy="1552.3" r="9.7" fill="#f00"/>
<text class="lg" text-anchor="end" transform="translate(1155.3 1565.3) scale(1 1.040)">10°C/min</text>
<path d="M953.0 1586.0l11 21h-22z" fill="#0f0"/>
<text class="lg" text-anchor="end" transform="translate(1155.3 1612.5) scale(1 1.040)">15°C/min</text>
<path d="M942.0 1639.2h22l-11 21z" fill="#00f"/>
<text class="lg" text-anchor="end" transform="translate(1155.3 1659.7) scale(1 1.040)">20°C/min</text>
<g clip-path="url(#cpc)">
<polyline class="cv" marker-start="url(#ms)" marker-mid="url(#ms)" marker-end="url(#ms)" points="130.1,1688.5 132.2,1688.4 134.3,1688.3 136.4,1688.1 138.5,1688 140.6,1687.9 142.7,1687.8 144.8,1687.7 146.9,1687.6 149.1,1687.4 151.2,1687.3 153.3,1687.1 155.4,1687 157.5,1686.8 159.6,1686.6 161.7,1686.5 163.8,1686.3 165.9,1686 168,1685.8 170.1,1685.6 172.2,1685.3 174.3,1685 176.4,1684.7 178.5,1684.4 180.6,1684 182.7,1683.6 184.8,1683.2 186.9,1682.8 189,1682.3 191.1,1681.8 193.2,1681.2 195.3,1680.6 197.4,1679.9 199.5,1679.2 201.6,1678.4 203.7,1677.5 205.8,1676.6 207.9,1675.6 210,1674.5 212.1,1673.2 214.2,1671.9 216.3,1670.4 218.4,1668.7 220.5,1666.9 222.6,1664.9 224.8,1662.7 226.9,1660.3 229,1657.7 231.1,1654.8 233.2,1651.7 235.3,1648.3 237.4,1644.7 239.5,1640.7 241.6,1636.5 243.7,1632.1 245.8,1627.4 247.9,1622.5 250,1617.4 252.1,1612 254.2,1606.3 256.3,1600.2 258.4,1593.9 260.5,1587.2 262.6,1580.1 264.7,1572.7 266.8,1564.8 268.9,1556.5 271,1547.7 273.1,1538.5 275.2,1528.9 277.3,1518.9 279.4,1508.5 281.5,1497.9 283.6,1487 285.7,1476.1 287.8,1465.1 289.9,1454.1 292,1443.1 294.1,1432 296.2,1420.9 298.3,1409.8 300.5,1398.6 302.6,1387.4 304.7,1376.1 306.8,1364.8 308.9,1353.4 311,1342 313.1,1330.5 315.2,1318.9 317.3,1307.3 319.4,1295.6 321.5,1283.9 323.6,1272.1 325.7,1260.2 327.8,1248.3 329.9,1236.6 332,1225.1 334.1,1214 336.2,1203.2 338.3,1192.9 340.4,1183.1 342.5,1173.7 344.6,1164.7 346.7,1156.3 348.8,1148.2 350.9,1140.6 353,1133.3 355.1,1126.5 357.2,1119.9 359.3,1113.7 361.4,1107.8 363.5,1102.2 365.6,1096.8 367.7,1091.7 369.8,1086.8 371.9,1082.1 374,1077.7 376.1,1073.4 378.3,1069.3 380.4,1065.4 382.5,1061.6 384.6,1058 386.7,1054.6 388.8,1051.3 390.9,1048.2 393,1045.3 395.1,1042.4 397.2,1039.8 399.3,1037.2 401.4,1034.9 403.5,1032.6 405.6,1030.5 407.7,1028.4 409.8,1026.5 411.9,1024.7 414,1023 416.1,1021.4 418.2,1019.9 420.3,1018.5 422.4,1017.1 424.5,1015.9 426.6,1014.7 428.7,1013.5 430.8,1012.5 432.9,1011.5 435,1010.5 437.1,1009.6 439.2,1008.7 441.3,1007.9 443.4,1007.1 445.5,1006.4 447.6,1005.7 449.7,1005 451.8,1004.4 454,1003.8 456.1,1003.2 458.2,1002.6 460.3,1002.1 462.4,1001.6 464.5,1001.1 466.6,1000.7 468.7,1000.2 470.8,999.8 472.9,999.4 475,999.1 477.1,998.7 479.2,998.4 481.3,998.1 483.4,997.8 485.5,997.5 487.6,997.2 489.7,996.9 491.8,996.7 493.9,996.5 496,996.2 498.1,996 500.2,995.8 502.3,995.7 504.4,995.5 506.5,995.3 508.6,995.2 510.7,995 512.8,994.9 514.9,994.8 517,994.6 519.1,994.5 521.2,994.4 523.3,994.3 525.4,994.2 527.5,994.2 529.6,994.1 531.8,994 533.9,993.9 536,993.9 538.1,993.8 540.2,993.8 542.3,993.8 544.4,993.7 546.5,993.7 548.6,993.6 550.7,993.6 552.8,993.6 554.9,993.6 557,993.6 559.1,993.6 561.2,993.5 563.3,993.5 565.4,993.5"/>
<polyline class="cv" marker-start="url(#mc)" marker-mid="url(#mc)" marker-end="url(#mc)" points="131.4,1688.5 133.5,1688.5 135.6,1688.5 137.7,1688.5 139.8,1688.5 141.9,1688.3 144,1688.1 146.1,1687.8 148.2,1687.4 150.3,1687 152.4,1686.5 154.5,1685.8 156.6,1685.1 158.7,1684.3 160.8,1683.3 162.9,1682.3 165,1681.1 167.1,1679.7 169.2,1678.1 171.3,1676.3 173.4,1674.4 175.5,1672.1 177.7,1669.6 179.8,1666.7 181.9,1663.3 184,1659.6 186.1,1655.2 188.2,1650.1 190.3,1644.2 192.4,1637.4 194.5,1629.5 196.6,1620.6 198.7,1611.1 200.8,1601 202.9,1590.2 205,1578.8 207.1,1566.6 209.2,1553.6 211.3,1539.6 213.4,1524.7 215.5,1508.8 217.6,1491.8 219.7,1473.9 221.8,1455 223.9,1435.3 226,1415.3 228.1,1395.1 230.2,1375.2 232.3,1355.8 234.4,1337.3 236.5,1319.6 238.6,1302.7 240.7,1286.5 242.8,1270.8 244.9,1255.6 247,1240.8 249.1,1226.3 251.2,1212.2 253.3,1198.3 255.5,1184.7 257.6,1171.4 259.7,1158.2 261.8,1145.1 263.9,1132.3 266,1119.7 268.1,1107.8 270.2,1096.9 272.3,1087.1 274.4,1078.4 276.5,1070.6 278.6,1063.7 280.7,1057.5 282.8,1051.9 284.9,1046.9 287,1042.3 289.1,1038.1 291.2,1034.3 293.3,1030.8 295.4,1027.6 297.5,1024.6 299.6,1021.9 301.7,1019.3 303.8,1017 305.9,1014.8 308,1012.9 310.1,1011 312.2,1009.3 314.3,1007.8 316.4,1006.3 318.5,1005 320.6,1003.8 322.7,1002.7 324.8,1001.6 326.9,1000.7 329,999.8 331.2,999 333.3,998.3 335.4,997.7 337.5,997.1 339.6,996.6 341.7,996.1 343.8,995.7 345.9,995.4 348,995.1 350.1,994.8 352.2,994.6 354.3,994.4 356.4,994.3 358.5,994.2 360.6,994.2 362.7,994.2 364.8,994.2"/>
<polyline class="cv" marker-start="url(#mu)" marker-mid="url(#mu)" marker-end="url(#mu)" points="131.5,1688.3 133.6,1688.1 135.7,1687.8 137.8,1687.4 139.9,1686.9 142,1686.2 144.1,1685.5 146.2,1684.7 148.3,1683.7 150.4,1682.5 152.5,1681.2 154.6,1679.7 156.7,1677.9 158.8,1675.9 160.9,1673.6 163,1670.9 165.1,1667.8 167.2,1664.1 169.3,1659.8 171.4,1654.7 173.5,1648.5 175.6,1641.1 177.7,1632.2 179.8,1621.5 181.9,1608.9 184.1,1595.2 186.2,1580.6 188.3,1565 190.4,1548.4 192.5,1530.7 194.6,1511.8 196.7,1491.7 198.8,1470.5 200.9,1448.2 203,1425.2 205.1,1401.6 207.2,1378 209.3,1354.8 211.4,1332.2 213.5,1310.5 215.6,1289.5 217.7,1269.3 219.8,1249.7 221.9,1230.7 224,1212.3 226.1,1194.4 228.2,1176.9 230.3,1160 232.4,1143.9 234.5,1129 236.6,1115.4 238.7,1103.2 240.8,1092.2 242.9,1082.2 245,1073.2 247.1,1064.9 249.2,1057.4 251.3,1050.5 253.4,1044.2 255.5,1038.7 257.6,1033.7 259.7,1029.2 261.9,1025.3 264,1021.8 266.1,1018.6 268.2,1015.8 270.3,1013.3 272.4,1011 274.5,1009 276.6,1007.1 278.7,1005.5 280.8,1004 282.9,1002.6 285,1001.4 287.1,1000.3 289.2,999.4 291.3,998.5 293.4,997.8 295.5,997.1 297.6,996.5 299.7,996 301.8,995.6 303.9,995.2 306,994.9 308.1,994.6 310.2,994.5 312.3,994.3 314.4,994.3 316.5,994.2"/>
<polyline class="cv" marker-start="url(#md)" marker-mid="url(#md)" marker-end="url(#md)" points="131.2,1687.8 133.3,1687.8 135.4,1687.8 137.5,1687.7 139.6,1687.4 141.7,1686.9 143.8,1686.2 145.9,1685.4 148,1684.3 150.1,1682.9 152.2,1681.1 154.3,1678.9 156.4,1676 158.5,1672.3 160.6,1667.6 162.7,1661.7 164.8,1654.1 166.9,1643.9 169,1629.8 171.1,1610.8 173.3,1590.4 175.4,1569.6 177.5,1548.2 179.6,1526.3 181.7,1503.9 183.8,1481 185.9,1457.5 188,1433.4 190.1,1408.8 192.2,1383.5 194.3,1357.7 196.4,1331.3 198.5,1304.4 200.6,1277.8 202.7,1252.2 204.8,1228.2 206.9,1206.1 209,1185.9 211.1,1167.4 213.2,1150.4 215.3,1134.9 217.4,1120.6 219.5,1107.4 221.6,1095.2 223.7,1083.7 225.8,1073.1 227.9,1063.1 230,1053.9 232.1,1045.9 234.2,1039.1 236.3,1033.5 238.4,1028.7 240.5,1024.6 242.6,1020.9 244.7,1017.5 246.8,1014.3 248.9,1011.4 251.1,1008.7 253.2,1006.2 255.3,1004 257.4,1002 259.5,1000.2 261.6,998.7 263.7,997.3 265.8,996.2 267.9,995.3 270,994.5 272.1,993.9 274.2,993.4 276.3,993.1 278.4,992.9 280.5,992.8"/>
</g>
</g>
<g id="panel-d">
<path class="tkm" d="M1374.8 1723.2v-10M1437.9 1723.2v-17M1500.9 1723.2v-10M1564.0 1723.2v-17M1627.1 1723.2v-10M1690.2 1723.2v-17M1753.3 1723.2v-10M1816.4 1723.2v-17M1879.4 1723.2v-10M1942.5 1723.2v-17M2005.6 1723.2v-10M2068.7 1723.2v-17M2131.8 1723.2v-10M2194.9 1723.2v-17M2257.9 1723.2v-10M2321.0 1723.2v-17M1311.7 1688.5h17.5M1311.7 1619.1h10M1311.7 1549.6h17.5M1311.7 1480.2h10M1311.7 1410.8h17.5M1311.7 1341.4h10M1311.7 1271.9h17.5M1311.7 1202.5h10M1311.7 1133.1h17.5M1311.7 1063.7h10M1311.7 994.2h17.5"/>
<rect class="ax" x="1311.7" y="924.8" width="1072.4" height="798.4"/>
<text class="tk" text-anchor="middle" transform="translate(1310.2 1765.1) scale(1 1.040)">0</text>
<text class="tk" text-anchor="middle" transform="translate(1436.4 1765.1) scale(1 1.040)">1</text>
<text class="tk" text-anchor="middle" transform="translate(1562.5 1765.1) scale(1 1.040)">2</text>
<text class="tk" text-anchor="middle" transform="translate(1688.7 1765.1) scale(1 1.040)">3</text>
<text class="tk" text-anchor="middle" transform="translate(1814.9 1765.1) scale(1 1.040)">4</text>
<text class="tk" text-anchor="middle" transform="translate(1941.0 1765.1) scale(1 1.040)">5</text>
<text class="tk" text-anchor="middle" transform="translate(2067.2 1765.1) scale(1 1.040)">6</text>
<text class="tk" text-anchor="middle" transform="translate(2193.4 1765.1) scale(1 1.040)">7</text>
<text class="tk" text-anchor="middle" transform="translate(2319.5 1765.1) scale(1 1.040)">8</text>
<text class="tk" text-anchor="end" transform="translate(1294.0 1696.3) scale(1 1.040)">0.0</text>
<text class="tk" text-anchor="end" transform="translate(1294.0 1557.4) scale(1 1.040)">0.2</text>
<text class="tk" text-anchor="end" transform="translate(1294.0 1418.6) scale(1 1.040)">0.4</text>
<text class="tk" text-anchor="end" transform="translate(1294.0 1279.7) scale(1 1.040)">0.6</text>
<text class="tk" text-anchor="end" transform="translate(1294.0 1140.9) scale(1 1.040)">0.8</text>
<text class="tk" text-anchor="end" transform="translate(1294.0 1002.0) scale(1 1.040)">1.0</text>
<text class="lb" text-anchor="middle" transform="translate(1846.4 1797.8) scale(1 1.040)">Time (min)</text>
<text class="yl" text-anchor="middle" transform="translate(1241.9 1349.0) rotate(-90) scale(1 1.040)">Relatave crystallinity (%)</text>
<text class="pl" text-anchor="middle" x="1383.9" y="1036.4">d</text>
<text class="tt" transform="translate(1977.0 978.8) scale(1 1.040)">PET-UIO66-3</text>
<rect x="2124.4" y="1496.1" width="18" height="18" fill="#000"/>
<text class="lg" text-anchor="end" transform="translate(2335.7 1518.1) scale(1 1.040)">5°C/min</text>
<circle cx="2133.4" cy="1552.3" r="9.7" fill="#f00"/>
<text class="lg" text-anchor="end" transform="translate(2335.7 1565.3) scale(1 1.040)">10°C/min</text>
<path d="M2133.4 1586.0l11 21h-22z" fill="#0f0"/>
<text class="lg" text-anchor="end" transform="translate(2335.7 1612.5) scale(1 1.040)">15°C/min</text>
<path d="M2122.4 1639.2h22l-11 21z" fill="#00f"/>
<text class="lg" text-anchor="end" transform="translate(2335.7 1659.7) scale(1 1.040)">20°C/min</text>
<g clip-path="url(#cpd)">
<polyline class="cv" marker-start="url(#ms)" marker-mid="url(#ms)" marker-end="url(#ms)" points="1311.7,1688.5 1313.8,1688.5 1315.9,1688.5 1318.1,1688.5 1320.2,1688.5 1322.3,1688.5 1324.4,1688.5 1326.5,1688.5 1328.6,1688.4 1330.7,1688.3 1332.8,1688.2 1334.9,1688.1 1337,1688 1339.1,1687.8 1341.2,1687.6 1343.3,1687.4 1345.4,1687.2 1347.5,1686.9 1349.6,1686.6 1351.7,1686.3 1353.8,1685.9 1355.9,1685.5 1358,1685.1 1360.1,1684.6 1362.2,1684.1 1364.3,1683.6 1366.4,1683 1368.5,1682.3 1370.6,1681.6 1372.7,1680.9 1374.8,1680 1376.9,1679.1 1379,1678.2 1381.1,1677.1 1383.2,1676 1385.3,1674.7 1387.4,1673.3 1389.5,1671.8 1391.6,1670.1 1393.7,1668.3 1395.9,1666.2 1398,1664 1400.1,1661.6 1402.2,1658.9 1404.3,1656 1406.4,1653 1408.5,1649.7 1410.6,1646.4 1412.7,1642.9 1414.8,1639.2 1416.9,1635.5 1419,1631.6 1421.1,1627.5 1423.2,1623.3 1425.3,1619 1427.4,1614.4 1429.5,1609.7 1431.6,1604.9 1433.7,1599.8 1435.8,1594.5 1437.9,1589 1440,1583.2 1442.1,1577.3 1444.2,1571 1446.3,1564.5 1448.4,1557.8 1450.5,1550.7 1452.6,1543.3 1454.7,1535.7 1456.8,1527.7 1458.9,1519.4 1461,1510.7 1463.1,1501.8 1465.2,1492.5 1467.3,1483 1469.4,1473.2 1471.6,1463.1 1473.7,1452.9 1475.8,1442.5 1477.9,1432 1480,1421.5 1482.1,1411 1484.2,1400.7 1486.3,1390.4 1488.4,1380.2 1490.5,1370.1 1492.6,1360.1 1494.7,1350.2 1496.8,1340.4 1498.9,1330.6 1501,1320.9 1503.1,1311.3 1505.2,1301.7 1507.3,1292.3 1509.4,1282.8 1511.5,1273.5 1513.6,1264.2 1515.7,1255 1517.8,1245.8 1519.9,1236.7 1522,1227.6 1524.1,1218.6 1526.2,1209.6 1528.3,1200.7 1530.4,1191.8 1532.5,1183.1 1534.6,1174.6 1536.7,1166.3 1538.8,1158.3 1540.9,1150.5 1543,1143.1 1545.1,1136 1547.2,1129.2 1549.4,1122.8 1551.5,1116.6 1553.6,1110.8 1555.7,1105.2 1557.8,1099.9 1559.9,1094.9 1562,1090.1 1564.1,1085.5 1566.2,1081.1 1568.3,1077 1570.4,1073 1572.5,1069.2 1574.6,1065.6 1576.7,1062.2 1578.8,1058.9 1580.9,1055.7 1583,1052.7 1585.1,1049.8 1587.2,1047.1 1589.3,1044.4 1591.4,1041.9 1593.5,1039.5 1595.6,1037.1 1597.7,1034.9 1599.8,1032.8 1601.9,1030.7 1604,1028.8 1606.1,1026.9 1608.2,1025.1 1610.3,1023.3 1612.4,1021.7 1614.5,1020.1 1616.6,1018.6 1618.7,1017.2 1620.8,1015.8 1622.9,1014.5 1625.1,1013.3 1627.2,1012.1 1629.3,1011 1631.4,1010 1633.5,1009 1635.6,1008 1637.7,1007.2 1639.8,1006.3 1641.9,1005.6 1644,1004.8 1646.1,1004.2 1648.2,1003.5 1650.3,1002.9 1652.4,1002.4 1654.5,1001.9 1656.6,1001.4 1658.7,1001 1660.8,1000.6 1662.9,1000.2 1665,999.8 1667.1,999.5 1669.2,999.2 1671.3,998.9 1673.4,998.6 1675.5,998.4 1677.6,998.1 1679.7,997.9 1681.8,997.7 1683.9,997.5 1686,997.3 1688.1,997.1 1690.2,996.9 1692.3,996.7 1694.4,996.6 1696.5,996.4 1698.6,996.2 1700.7,996.1 1702.9,995.9 1705,995.8 1707.1,995.6 1709.2,995.5 1711.3,995.3 1713.4,995.2 1715.5,995 1717.6,994.9 1719.7,994.8 1721.8,994.6 1723.9,994.5 1726,994.4 1728.1,994.3 1730.2,994.2 1732.3,994.1 1734.4,994 1736.5,993.9 1738.6,993.8 1740.7,993.8 1742.8,993.7 1744.9,993.7 1747,993.6 1749.1,993.6 1751.2,993.5 1753.3,993.5 1755.4,993.5 1757.5,993.5 1759.6,993.5 1761.7,993.5"/>
<polyline class="cv" marker-start="url(#mc)" marker-mid="url(#mc)" marker-end="url(#mc)" points="1313.7,1688.5 1315.8,1688.5 1317.9,1688.5 1320,1688.5 1322.1,1688.5 1324.2,1688.5 1326.4,1688.5 1328.5,1688.5 1330.6,1688.5 1332.7,1688.5 1334.8,1688.3 1336.9,1687.9 1339,1687.5 1341.1,1687 1343.2,1686.4 1345.3,1685.7 1347.4,1684.8 1349.5,1683.9 1351.6,1682.8 1353.7,1681.6 1355.8,1680.2 1357.9,1678.6 1360,1676.8 1362.1,1674.7 1364.2,1672.3 1366.3,1669.5 1368.4,1666.3 1370.5,1662.6 1372.6,1658.2 1374.7,1653.2 1376.8,1647.3 1378.9,1640.6 1381,1633.2 1383.1,1625.4 1385.2,1617.2 1387.3,1608.7 1389.4,1599.8 1391.5,1590.5 1393.6,1580.8 1395.7,1570.5 1397.8,1559.8 1399.9,1548.5 1402.1,1536.7 1404.2,1524.2 1406.3,1511.1 1408.4,1497.3 1410.5,1482.9 1412.6,1467.8 1414.7,1452 1416.8,1435.6 1418.9,1418.7 1421,1401.3 1423.1,1383.6 1425.2,1365.9 1427.3,1348.1 1429.4,1330.6 1431.5,1313.5 1433.6,1296.8 1435.7,1280.7 1437.8,1265.3 1439.9,1250.5 1442,1236.4 1444.1,1222.9 1446.2,1210.1 1448.3,1197.8 1450.4,1186.1 1452.5,1174.9 1454.6,1164.2 1456.7,1153.9 1458.8,1144.1 1460.9,1134.8 1463,1125.7 1465.1,1117.1 1467.2,1108.8 1469.3,1100.8 1471.4,1093.1 1473.5,1085.7 1475.6,1078.5 1477.7,1071.6 1479.9,1064.9 1482,1058.5 1484.1,1052.4 1486.2,1046.8 1488.3,1041.6 1490.4,1036.9 1492.5,1032.7 1494.6,1028.8 1496.7,1025.4 1498.8,1022.3 1500.9,1019.5 1503,1017 1505.1,1014.7 1507.2,1012.6 1509.3,1010.8 1511.4,1009.1 1513.5,1007.6 1515.6,1006.2 1517.7,1004.9 1519.8,1003.8 1521.9,1002.7 1524,1001.8 1526.1,1000.9 1528.2,1000.1 1530.3,999.3 1532.4,998.7 1534.5,998.1 1536.6,997.5 1538.7,997 1540.8,996.5 1542.9,996.1 1545,995.7 1547.1,995.4 1549.2,995.1 1551.3,994.8 1553.4,994.6 1555.6,994.4 1557.7,994.2 1559.8,994.2 1561.9,994.2 1564,994.2 1566.1,994.2 1568.2,994.2 1570.3,994.2 1572.4,994.2 1574.5,994.2 1576.6,994.2 1578.7,994.2 1580.8,994.2 1582.9,994.2 1585,994.2 1587.1,994.2"/>
<polyline class="cv" marker-start="url(#mu)" marker-mid="url(#mu)" marker-end="url(#mu)" points="1312.1,1688.5 1314.2,1688.3 1316.3,1688 1318.4,1687.7 1320.5,1687.3 1322.6,1686.8 1324.7,1686.2 1326.8,1685.5 1328.9,1684.7 1331,1683.8 1333.1,1682.7 1335.2,1681.5 1337.3,1680.2 1339.4,1678.6 1341.5,1676.8 1343.6,1674.8 1345.7,1672.5 1347.8,1669.9 1349.9,1666.9 1352.1,1663.4 1354.2,1659.4 1356.3,1654.7 1358.4,1649.2 1360.5,1642.6 1362.6,1634.7 1364.7,1625.5 1366.8,1614.6 1368.9,1601.7 1371,1586.3 1373.1,1568.8 1375.2,1550.6 1377.3,1532.3 1379.4,1513.9 1381.5,1495.4 1383.6,1476.7 1385.7,1457.9 1387.8,1438.8 1389.9,1419.6 1392,1400 1394.1,1380.2 1396.2,1360.1 1398.3,1339.5 1400.4,1318.6 1402.5,1297.2 1404.6,1275.4 1406.7,1253.8 1408.8,1232.9 1410.9,1213.1 1413,1194.7 1415.1,1177.6 1417.2,1161.9 1419.3,1147.5 1421.4,1134.1 1423.5,1121.8 1425.6,1110.4 1427.8,1099.8 1429.9,1089.9 1432,1080.7 1434.1,1072 1436.2,1063.8 1438.3,1056.1 1440.4,1048.9 1442.5,1042.3 1444.6,1036.5 1446.7,1031.3 1448.8,1026.7 1450.9,1022.7 1453,1019.2 1455.1,1016 1457.2,1013.3 1459.3,1010.8 1461.4,1008.6 1463.5,1006.7 1465.6,1004.9 1467.7,1003.4 1469.8,1002 1471.9,1000.8 1474,999.7 1476.1,998.7 1478.2,997.9 1480.3,997.2 1482.4,996.5 1484.5,996 1486.6,995.5 1488.7,995.1 1490.8,994.8 1492.9,994.6 1495,994.4 1497.1,994.3 1499.2,994.2"/>
<polyline class="cv" marker-start="url(#md)" marker-mid="url(#md)" marker-end="url(#md)" points="1313.2,1687.8 1315.3,1687.8 1317.4,1687.7 1319.5,1687.4 1321.6,1687 1323.7,1686.5 1325.8,1685.8 1327.9,1685 1330,1683.9 1332.1,1682.5 1334.2,1680.8 1336.3,1678.8 1338.4,1676.2 1340.5,1673.1 1342.6,1669.4 1344.7,1664.8 1346.8,1659.5 1348.9,1653.1 1351,1645.4 1353.1,1635.9 1355.2,1623.7 1357.3,1608.1 1359.4,1589.6 1361.5,1570.3 1363.6,1550.4 1365.7,1529.9 1367.8,1508.9 1370,1487.3 1372.1,1465.2 1374.2,1442.8 1376.3,1420 1378.4,1397 1380.5,1373.8 1382.6,1350.6 1384.7,1327.5 1386.8,1304.5 1388.9,1281.9 1391,1259.6 1393.1,1238 1395.2,1217.3 1397.3,1197.8 1399.4,1179.5 1401.5,1162.4 1403.6,1146.5 1405.7,1131.6 1407.8,1117.7 1409.9,1104.7 1412,1092.6 1414.1,1081.2 1416.2,1070.4 1418.3,1060.3 1420.4,1051 1422.5,1042.9 1424.6,1036 1426.7,1030.1 1428.8,1025.1 1430.9,1020.8 1433,1017 1435.1,1013.8 1437.2,1010.9 1439.3,1008.4 1441.4,1006.2 1443.5,1004.3 1445.6,1002.6 1447.8,1001 1449.9,999.7 1452,998.5 1454.1,997.4 1456.2,996.5 1458.3,995.7 1460.4,995 1462.5,994.4 1464.6,993.9 1466.7,993.5 1468.8,993.1 1470.9,992.8"/>
</g>
</g>
</g>
</svg>
</body></html>
